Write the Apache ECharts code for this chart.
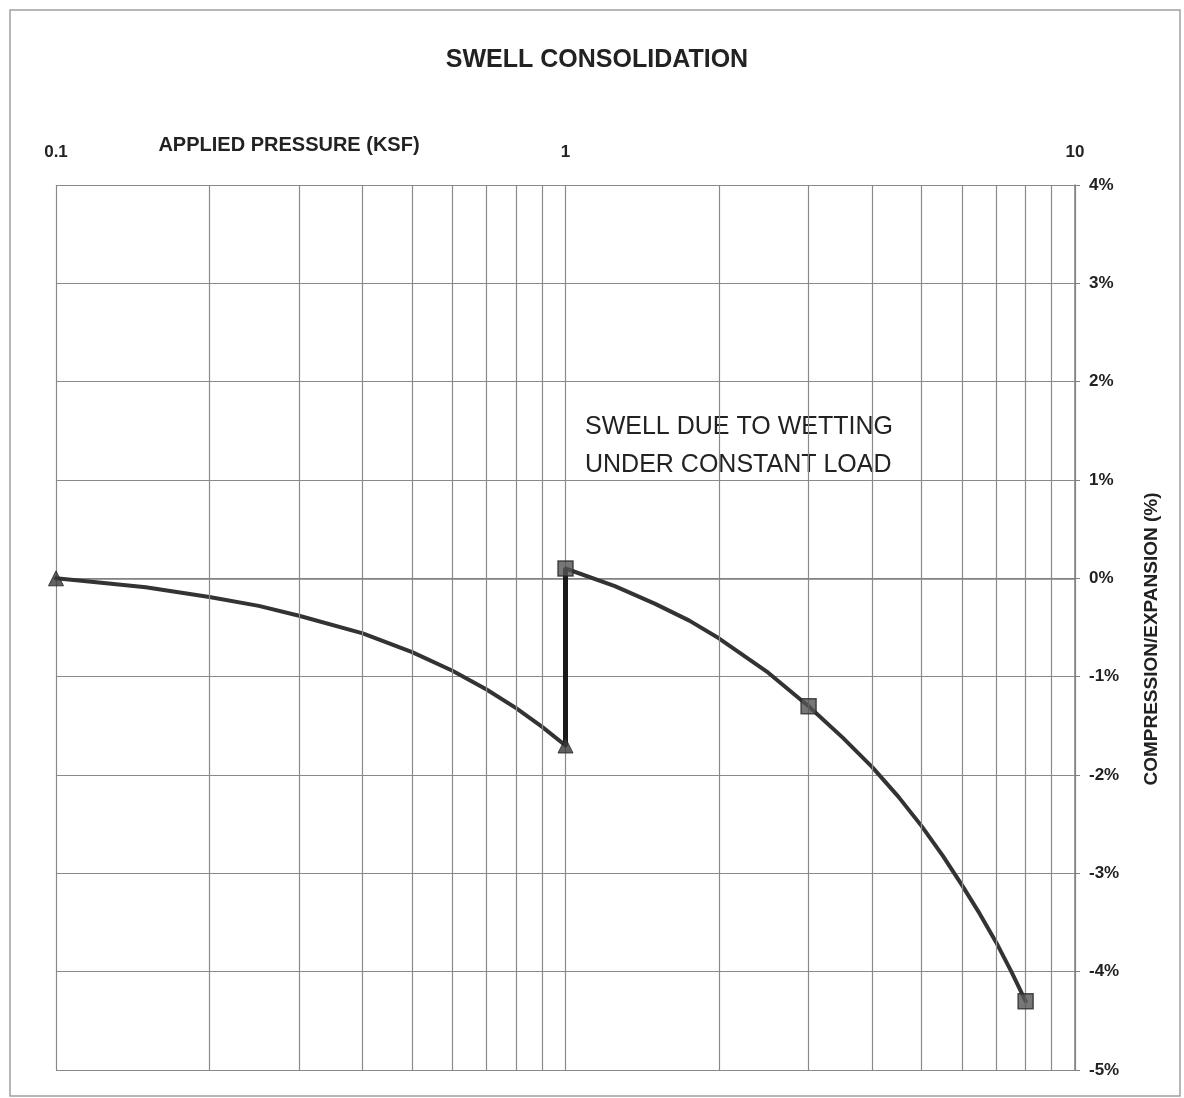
<!DOCTYPE html>
<html>
<head>
<meta charset="utf-8">
<script src="https://cdn.jsdelivr.net/npm/echarts@6/dist/echarts.min.js"></script>
<style>
html,body{margin:0;padding:0;background:#fff;}
#chart{width:1184px;height:1098px;}
</style>
</head>
<body>
<div id="chart"></div>
<script>
// ---- data ----
const titleText = 'SWELL CONSOLIDATION';
const xAxisTitle = 'APPLIED PRESSURE (KSF)';
const yAxisTitle = 'COMPRESSION/EXPANSION (%)';
const noteLines = ['SWELL DUE TO WETTING', 'UNDER CONSTANT LOAD'];

// dry loading curve (triangle markers at ends)
const dryCurvePressure = [0.1, 0.12, 0.15, 0.2, 0.25, 0.3, 0.4, 0.5, 0.6, 0.7, 0.8, 0.9, 1.0];
const dryCurveStrain   = [0.0, -0.04, -0.09, -0.19, -0.28, -0.38, -0.56, -0.75, -0.94, -1.13, -1.32, -1.51, -1.7];
const dryMarkPressure  = [0.1, 1.0];
const dryMarkStrain    = [0.0, -1.7];

// wetted loading curve (square markers)
const wetCurvePressure = [1.0, 1.25, 1.5, 1.75, 2.0, 2.5, 3.0, 3.5, 4.0, 4.5, 5.0, 5.5, 6.0, 6.5, 7.0, 7.5, 8.0];
const wetCurveStrain   = [0.1, -0.08, -0.26, -0.43, -0.61, -0.96, -1.3, -1.62, -1.92, -2.22, -2.52, -2.82, -3.12, -3.41, -3.7, -4.0, -4.3];
const wetMarkPressure  = [1.0, 3.0, 8.0];
const wetMarkStrain    = [0.1, -1.3, -4.3];

// swell due to wetting (vertical jump)
const swellPressure = [1.0, 1.0];
const swellStrain   = [-1.7, 0.1];

// minor log grid lines
const minorGridValues = [0.2, 0.3, 0.4, 0.5, 0.6, 0.7, 0.8, 0.9, 2, 3, 4, 5, 6, 7, 8, 9];

const zip = (xs, ys) => xs.map((x, i) => [x, ys[i]]);

const FONT = '"Liberation Sans", Arial, sans-serif';
const chart = echarts.init(document.getElementById('chart'));

chart.setOption({
  backgroundColor: '#ffffff',
  animation: false,
  grid: { left: 56, right: 109, top: 185, bottom: 28, show: false },
  xAxis: {
    type: 'log',
    logBase: 10,
    position: 'top',
    min: 0.1,
    max: 10,
    axisLine: { show: true, lineStyle: { color: '#808080', width: 1.5 } },
    axisTick: { show: false },
    axisLabel: {
      color: '#222', fontFamily: FONT, fontWeight: 'bold', fontSize: 17, margin: 24,
      formatter: v => (Math.abs(v - 0.1) < 1e-9 ? '0.1' : String(Math.round(v)))
    },
    splitLine: { show: true, lineStyle: { color: '#8a8a8a', width: 1.2 } }
  },
  yAxis: {
    type: 'value',
    position: 'right',
    min: -5,
    max: 4,
    interval: 1,
    axisLine: { show: true, lineStyle: { color: '#808080', width: 1.5 } },
    axisTick: { show: true, length: 5, lineStyle: { color: '#808080' } },
    axisLabel: {
      color: '#222', fontFamily: FONT, fontWeight: 'bold', fontSize: 17, margin: 14,
      formatter: '{value}%'
    },
    splitLine: { show: true, lineStyle: { color: '#8a8a8a', width: 1.2 } }
  },
  series: [
    {
      name: 'minor grid',
      type: 'line',
      data: [],
      silent: true,
      markLine: {
        silent: true,
        symbol: ['none', 'none'],
        label: { show: false },
        lineStyle: { color: '#8a8a8a', width: 1.2, type: 'solid' },
        data: minorGridValues.map(v => ({ xAxis: v }))
      }
    },
    {
      name: 'dry curve',
      type: 'line',
      data: zip(dryCurvePressure, dryCurveStrain),
      showSymbol: false,
      smooth: false,
      lineStyle: { color: '#333333', width: 4, join: 'round', cap: 'round' },
      z: 3
    },
    {
      name: 'wet curve',
      type: 'line',
      data: zip(wetCurvePressure, wetCurveStrain),
      showSymbol: false,
      smooth: false,
      lineStyle: { color: '#333333', width: 4, join: 'round', cap: 'round' },
      z: 3
    },
    {
      name: 'swell',
      type: 'line',
      data: zip(swellPressure, swellStrain),
      showSymbol: false,
      lineStyle: { color: '#1a1a1a', width: 5 },
      z: 4
    },
    {
      name: 'dry points',
      type: 'scatter',
      data: zip(dryMarkPressure, dryMarkStrain),
      symbol: 'triangle',
      symbolSize: 15,
      itemStyle: { color: '#3a3a3a', borderColor: '#222', borderWidth: 1 },
      z: 5
    },
    {
      name: 'wet points',
      type: 'scatter',
      data: zip(wetMarkPressure, wetMarkStrain),
      symbol: 'rect',
      symbolSize: 15,
      itemStyle: { color: '#555555', borderColor: '#2a2a2a', borderWidth: 1.5 },
      z: 5
    }
  ],
  graphic: [
    {
      type: 'rect', silent: true, z: -10,
      shape: { x: 10, y: 10, width: 1170, height: 1086 },
      style: { fill: 'none', stroke: '#a0a0a0', lineWidth: 1.5 }
    },
    {
      type: 'text', x: 597, y: 60,
      style: { text: titleText, font: 'bold 25px ' + FONT, fill: '#222', textAlign: 'center', textVerticalAlign: 'middle' }
    },
    {
      type: 'text', x: 289, y: 145,
      style: { text: xAxisTitle, font: 'bold 20px ' + FONT, fill: '#222', textAlign: 'center', textVerticalAlign: 'middle' }
    },
    {
      type: 'text', x: 1152, y: 639, rotation: Math.PI / 2,
      style: { text: yAxisTitle, font: 'bold 19px ' + FONT, fill: '#222', textAlign: 'center', textVerticalAlign: 'middle' }
    },
    {
      type: 'text', x: 585, y: 427,
      style: { text: noteLines[0], font: '25px ' + FONT, fill: '#222', textAlign: 'left', textVerticalAlign: 'middle' }
    },
    {
      type: 'text', x: 585, y: 465,
      style: { text: noteLines[1], font: '25px ' + FONT, fill: '#222', textAlign: 'left', textVerticalAlign: 'middle' }
    }
  ]
});
</script>
</body>
</html>
